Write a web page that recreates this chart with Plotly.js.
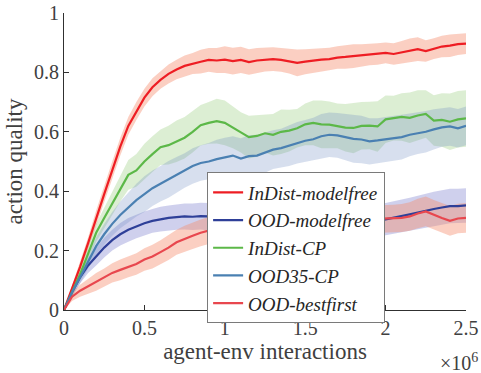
<!DOCTYPE html>
<html>
<head>
<meta charset="utf-8">
<script src="https://cdn.plot.ly/plotly-3.0.1.min.js"></script>
<style>html,body{margin:0;padding:0;background:#fff;}#chart{width:481px;height:373px;}</style>
</head>
<body>
<div id="chart"></div>
<script>
// x values in units of 1e6 agent-env interactions
const interactionsMillions = [0,0.05,0.1,0.15,0.2,0.25,0.3,0.35,0.4,0.45,0.5,0.55,0.6,0.65,0.7,0.75,0.8,0.85,0.9,0.95,1.0,1.05,1.1,1.15,1.2,1.25,1.3,1.35,1.4,1.45,1.5,1.55,1.6,1.65,1.7,1.75,1.8,1.85,1.9,1.95,2.0,2.05,2.1,2.15,2.2,2.25,2.3,2.35,2.4,2.45,2.5];

const seriesNames = ["InDist-modelfree","OOD-modelfree","InDist-CP","OOD35-CP","OOD-bestfirst"];

const indistModelfreeMean = [0,0.07,0.145,0.225,0.31,0.39,0.47,0.55,0.62,0.67,0.715,0.75,0.775,0.795,0.81,0.822,0.83,0.836,0.842,0.84,0.843,0.838,0.842,0.835,0.84,0.843,0.845,0.842,0.838,0.832,0.836,0.84,0.843,0.845,0.85,0.852,0.855,0.857,0.86,0.862,0.866,0.862,0.868,0.874,0.878,0.872,0.88,0.887,0.89,0.895,0.897];
const indistModelfreeSpread = [0,0.01,0.015,0.02,0.025,0.03,0.03,0.03,0.03,0.03,0.03,0.03,0.03,0.032,0.033,0.035,0.035,0.04,0.04,0.042,0.045,0.045,0.044,0.043,0.042,0.04,0.04,0.04,0.042,0.045,0.042,0.04,0.04,0.038,0.038,0.04,0.04,0.038,0.036,0.036,0.035,0.036,0.038,0.04,0.04,0.036,0.035,0.036,0.038,0.036,0.035];

const oodModelfreeMean = [0,0.06,0.11,0.15,0.18,0.21,0.235,0.255,0.27,0.282,0.292,0.30,0.306,0.31,0.313,0.315,0.314,0.316,0.315,0.31,0.308,0.305,0.302,0.30,0.298,0.30,0.301,0.298,0.30,0.299,0.30,0.302,0.30,0.305,0.308,0.31,0.306,0.303,0.305,0.302,0.305,0.31,0.316,0.322,0.328,0.335,0.34,0.345,0.35,0.35,0.352];
const oodModelfreeSpread = [0,0.015,0.02,0.025,0.03,0.033,0.035,0.038,0.04,0.04,0.04,0.04,0.042,0.042,0.043,0.044,0.045,0.045,0.045,0.045,0.045,0.045,0.046,0.047,0.048,0.048,0.05,0.05,0.05,0.05,0.05,0.05,0.05,0.05,0.05,0.052,0.052,0.053,0.054,0.055,0.055,0.055,0.056,0.056,0.057,0.058,0.058,0.058,0.058,0.058,0.058];

const indistCPMean = [0,0.06,0.12,0.19,0.26,0.31,0.36,0.41,0.455,0.47,0.50,0.525,0.548,0.555,0.568,0.58,0.60,0.622,0.63,0.636,0.63,0.615,0.598,0.582,0.586,0.595,0.59,0.60,0.604,0.612,0.625,0.63,0.625,0.624,0.62,0.614,0.613,0.62,0.621,0.618,0.642,0.646,0.65,0.647,0.655,0.66,0.638,0.64,0.634,0.642,0.645];
const indistCPSpread = [0,0.01,0.02,0.025,0.03,0.035,0.04,0.045,0.05,0.055,0.06,0.06,0.06,0.065,0.07,0.07,0.07,0.068,0.07,0.075,0.075,0.07,0.068,0.072,0.07,0.065,0.07,0.075,0.07,0.065,0.07,0.075,0.08,0.078,0.075,0.08,0.085,0.08,0.08,0.085,0.08,0.075,0.08,0.085,0.085,0.08,0.085,0.09,0.095,0.095,0.095];

const ood35CPMean = [0,0.06,0.11,0.165,0.215,0.255,0.29,0.32,0.345,0.37,0.39,0.41,0.425,0.44,0.455,0.47,0.485,0.495,0.50,0.508,0.515,0.52,0.51,0.518,0.52,0.53,0.54,0.545,0.553,0.563,0.57,0.575,0.585,0.59,0.588,0.582,0.576,0.574,0.568,0.571,0.575,0.578,0.582,0.59,0.595,0.60,0.608,0.615,0.618,0.612,0.62];
const ood35CPSpread = [0,0.015,0.02,0.025,0.03,0.035,0.04,0.045,0.05,0.055,0.06,0.06,0.06,0.062,0.06,0.058,0.06,0.06,0.062,0.065,0.065,0.065,0.068,0.07,0.07,0.068,0.065,0.065,0.068,0.07,0.07,0.072,0.075,0.075,0.075,0.078,0.08,0.08,0.078,0.075,0.075,0.075,0.075,0.072,0.07,0.07,0.068,0.065,0.065,0.065,0.065];

const oodBestfirstMean = [0,0.045,0.065,0.08,0.095,0.11,0.125,0.135,0.145,0.155,0.17,0.18,0.195,0.21,0.228,0.24,0.25,0.26,0.268,0.275,0.28,0.283,0.286,0.288,0.29,0.292,0.294,0.295,0.296,0.297,0.298,0.299,0.30,0.30,0.301,0.302,0.302,0.303,0.304,0.305,0.306,0.308,0.31,0.315,0.325,0.332,0.32,0.31,0.30,0.308,0.31];
const oodBestfirstSpread = [0,0.015,0.02,0.025,0.03,0.03,0.032,0.035,0.035,0.036,0.038,0.04,0.04,0.042,0.042,0.044,0.045,0.045,0.045,0.045,0.045,0.045,0.045,0.045,0.045,0.045,0.045,0.045,0.045,0.045,0.045,0.045,0.045,0.045,0.045,0.045,0.045,0.045,0.045,0.045,0.045,0.046,0.047,0.048,0.05,0.05,0.05,0.05,0.05,0.05,0.05];

const xTickVals = [0,0.5,1,1.5,2,2.5];
const yTickVals = [0,0.2,0.4,0.6,0.8,1];

const means = [indistModelfreeMean, oodModelfreeMean, indistCPMean, ood35CPMean, oodBestfirstMean];
const spreads = [indistModelfreeSpread, oodModelfreeSpread, indistCPSpread, ood35CPSpread, oodBestfirstSpread];
const lineColors = ["#ee1d23","#2e3f98","#5cb848","#4a80b2","#e8474e"];
const bandColors = ["rgba(246,140,110,0.42)","rgba(95,100,195,0.30)","rgba(140,200,110,0.30)","rgba(110,140,195,0.28)","rgba(246,140,110,0.42)"];

const traces = [];
for (let i = 0; i < seriesNames.length; i++) {
  const upper = means[i].map((m, k) => m + spreads[i][k]);
  const lower = means[i].map((m, k) => Math.max(0, m - spreads[i][k]));
  traces.push({
    x: interactionsMillions.concat(interactionsMillions.slice().reverse()),
    y: upper.concat(lower.slice().reverse()),
    type: "scatter", mode: "lines", fill: "toself",
    fillcolor: bandColors[i], line: {width: 0, color: "rgba(0,0,0,0)"},
    hoverinfo: "skip", showlegend: false
  });
}
for (let i = 0; i < seriesNames.length; i++) {
  traces.push({
    x: interactionsMillions, y: means[i], name: seriesNames[i],
    type: "scatter", mode: "lines",
    line: {color: lineColors[i], width: 2.2}
  });
}

const serif = "Liberation Serif, serif";
const layout = {
  width: 481, height: 373,
  margin: {l: 64, r: 15, t: 13, b: 63},
  paper_bgcolor: "#fff", plot_bgcolor: "#fff",
  font: {family: serif, size: 18, color: "#404040"},
  xaxis: {
    range: [0, 2.5], tickvals: xTickVals, ticks: "inside", ticklen: 5,
    tickcolor: "#303030", showline: true, linecolor: "#303030", linewidth: 1,
    showgrid: false, zeroline: false, mirror: false,
    tickfont: {family: serif, size: 20, color: "#404040"},
    title: {text: "agent-env interactions", font: {family: serif, size: 23, color: "#404040"}, standoff: 4}
  },
  yaxis: {
    range: [0, 1], tickvals: yTickVals, ticks: "inside", ticklen: 5,
    tickcolor: "#303030", showline: true, linecolor: "#303030", linewidth: 1,
    showgrid: false, zeroline: false, mirror: false,
    tickfont: {family: serif, size: 20, color: "#404040"},
    title: {text: "action quality", font: {family: serif, size: 23, color: "#404040"}, standoff: 4}
  },
  legend: {
    x: 0.356, y: 0.463, xanchor: "left", yanchor: "top",
    bgcolor: "#fff", bordercolor: "#7a7a7a", borderwidth: 1,
    font: {family: serif, size: 19, color: "#262626", style: "italic"},
    tracegroupgap: 0, itemwidth: 30
  },
  annotations: [{
    xref: "paper", yref: "paper", x: 1.035, y: -0.175, xanchor: "right", yanchor: "middle",
    text: "×10<sup>6</sup>", showarrow: false, font: {family: serif, size: 20, color: "#404040"}
  }],
  showlegend: true
};

Plotly.newPlot("chart", traces, layout, {displayModeBar: false, staticPlot: true}).then(function(){
  document.querySelectorAll(".legendtext").forEach(function(t){ t.style.fontStyle = "italic"; });
});
</script>
</body>
</html>
